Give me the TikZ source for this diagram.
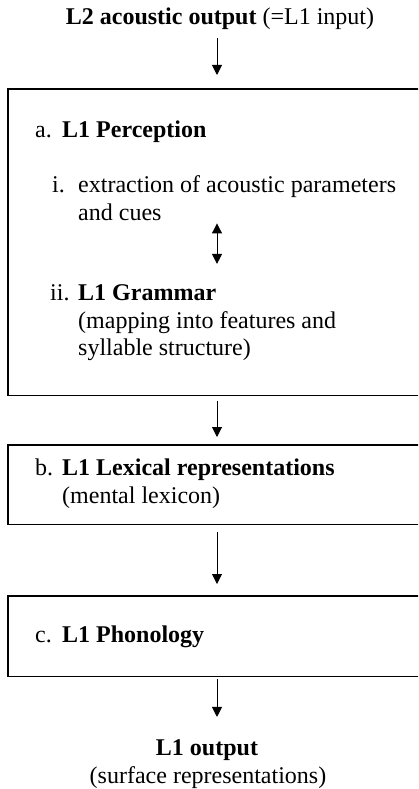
\documentclass[tikz,border=0pt]{standalone}
\usepackage{fontspec}
\setmainfont{Liberation Serif}
\usetikzlibrary{arrows.meta}
\begin{document}
\begin{tikzpicture}[x=1pt,y=-1pt,
  font=\fontsize{24}{28}\selectfont,
  box/.style={rectangle, inner sep=0pt, anchor=north west},
  frame/.style={line width=1.2pt},
  arr/.style={-{Triangle[width=10pt,length=10pt]}, line width=1pt},
  darr/.style={{Triangle[width=10pt,length=10pt]}-{Triangle[width=10pt,length=10pt]}, line width=1pt},
  lbl/.style={anchor=base west, inner sep=0pt},
  ctr/.style={anchor=base, inner sep=0pt}]
\useasboundingbox (0,0) rectangle (418,789);
\clip (0,0) rectangle (418,789);
\node[box, minimum width=418pt, minimum height=306pt] (boxa) at (8,89) {};
\node[box, minimum width=418pt, minimum height=79pt] (boxb) at (8,445) {};
\node[box, minimum width=418pt, minimum height=80pt] (boxc) at (8,596) {};
\foreach \b in {boxa,boxb,boxc}
  \draw[frame] (\b.north east) -- (\b.north west) -- (\b.south west) -- (\b.south east);
\coordinate (mid) at (217,0);
% title
\node[ctr] (title) at (220,25) {\textbf{L2 acoustic output} (=L1 input)};
% box a
\node[lbl] (la) at (35,137) {a.};
\node[lbl] (pa) at (62,137) {\textbf{L1 Perception}};
\node[lbl] (li) at (52,192) {i.};
\node[lbl] (e1) at (78,192) {extraction of acoustic parameters};
\node[lbl] (e2) at (78,220) {and cues};
\node[lbl] (lii) at (50,300) {ii.};
\node[lbl] (g1) at (78,300) {\textbf{L1 Grammar}};
\node[lbl] (g2) at (78,328) {(mapping into features and};
\node[lbl] (g3) at (78,355) {syllable structure)};
% box b
\node[lbl] (lb) at (35,475) {b.};
\node[lbl] (b1) at (62,475) {\textbf{L1 Lexical representations}};
\node[lbl] (b2) at (62,503) {(mental lexicon)};
% box c
\node[lbl] (lc) at (35,642) {c.};
\node[lbl] (c1) at (62,642) {\textbf{L1 Phonology}};
% output
\node[ctr] (o1) at (207,755) {\textbf{L1 output}};
\node[ctr] (o2) at (208,783) {(surface representations)};
% arrows
\draw[arr, shorten <=8pt, shorten >=14pt] (title.south -| mid) -- (boxa.north west -| mid);
\draw[darr, shorten <=3pt, shorten >=20pt] (e2.south -| mid) -- (g1.north -| mid);
\draw[arr, shorten <=6pt, shorten >=8pt] (boxa.south west -| mid) -- (boxb.north west -| mid);
\draw[arr, shorten <=8pt, shorten >=12pt] (boxb.south west -| mid) -- (boxc.north west -| mid);
\draw[arr, shorten <=3pt, shorten >=22pt] (boxc.south west -| mid) -- (o1.north -| mid);
\end{tikzpicture}
\end{document}
